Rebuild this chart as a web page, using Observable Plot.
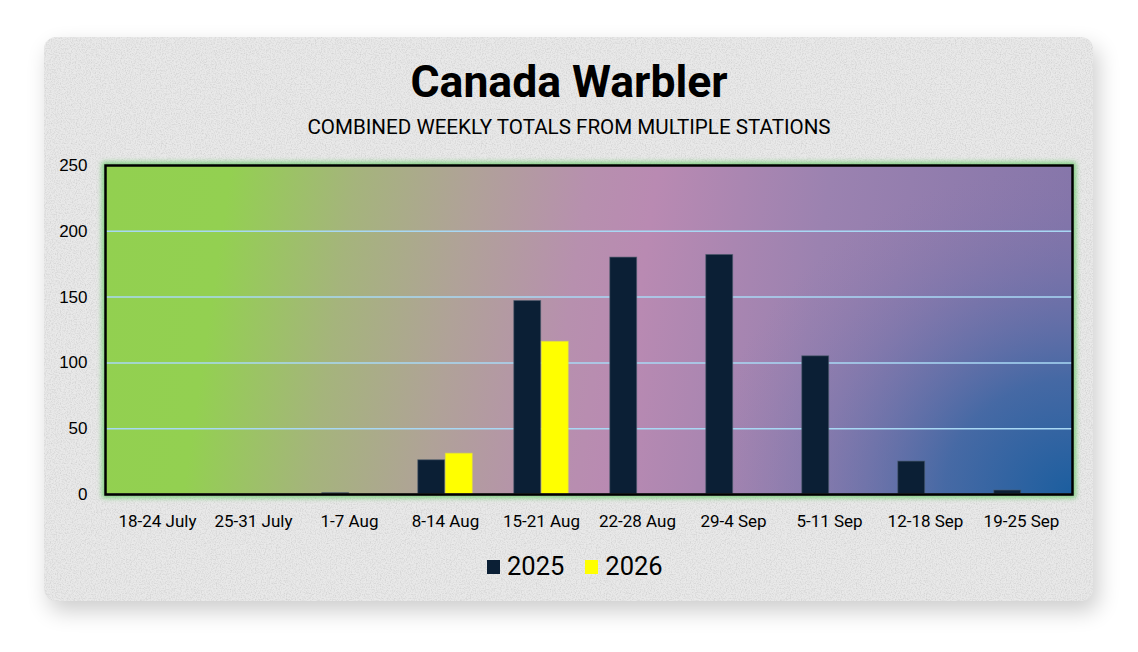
<!DOCTYPE html>
<html>
<head>
<meta charset="utf-8">
<script src="https://cdn.jsdelivr.net/npm/d3@7"></script>
<script src="https://cdn.jsdelivr.net/npm/@observablehq/plot@0.6"></script>
<style>
  html, body { margin: 0; padding: 0; background: #ffffff; }
  body { width: 1138px; height: 652px; overflow: hidden; position: relative; font-family: Roboto, "Liberation Sans", sans-serif; }
  #panel { position: absolute; left: 44px; top: 37px; width: 1049px; height: 564px; border-radius: 12px;
           background: #e9e9e9; box-shadow: 5px 10px 22px rgba(0,0,0,0.20); overflow: hidden; }
  #panel svg { position: absolute; left: 0; top: 0; }
  #title { position: absolute; left: 0; width: 1138px; top: 60px; text-align: center; font-weight: 700;
           font-size: 44.5px; line-height: 44.5px; color: #000; }
  #subtitle { position: absolute; left: 0; width: 1138px; top: 117px; text-align: center; font-weight: 400;
              font-size: 20.6px; line-height: 20.6px; color: #000; }
  #chart { position: absolute; left: 0; top: 150px; }
  #legend { position: absolute; left: 487px; top: 554px; display: flex; align-items: center; font-size: 25.5px; line-height: 25px; color: #000; }
  .sw { width: 13px; height: 14px; display: inline-block; margin-right: 7px; }
  .item { display: flex; align-items: center; margin-right: 21px; }
</style>
</head>
<body>
<svg width="0" height="0" style="position:absolute;left:0;top:0">
  <defs>
    <linearGradient id="bgH" x1="0" y1="0" x2="1" y2="0.05">
      <stop offset="0" stop-color="#92d050"/>
      <stop offset="0.13" stop-color="#93d051"/>
      <stop offset="0.26" stop-color="#a5b47c"/>
      <stop offset="0.38" stop-color="#b0a298"/>
      <stop offset="0.50" stop-color="#b790ae"/>
      <stop offset="0.57" stop-color="#b98ab2"/>
      <stop offset="0.75" stop-color="#9b82b0"/>
      <stop offset="1" stop-color="#8676aa"/>
    </linearGradient>
    <radialGradient id="bgR" cx="1" cy="1" r="1" gradientTransform="translate(1 1) scale(0.38 1) translate(-1 -1)">
      <stop offset="0" stop-color="#1b5e9f" stop-opacity="1"/>
      <stop offset="0.35" stop-color="#2f64a2" stop-opacity="0.75"/>
      <stop offset="0.7" stop-color="#5a6ca8" stop-opacity="0.3"/>
      <stop offset="1" stop-color="#8676aa" stop-opacity="0"/>
    </radialGradient>
    <filter id="noise" x="0" y="0" width="100%" height="100%">
      <feTurbulence type="fractalNoise" baseFrequency="0.8" numOctaves="2" seed="3"/>
      <feColorMatrix type="matrix" values="0 0 0 0 0.5  0 0 0 0 0.5  0 0 0 0 0.5  1.1 0 0 0 -0.45"/>
    </filter>
  </defs>
</svg>
<div id="panel">
  <svg width="1049" height="564"><rect width="1049" height="564" fill="#000" filter="url(#noise)"/></svg>
</div>
<div id="title">Canada Warbler</div>
<div id="subtitle">COMBINED WEEKLY TOTALS FROM MULTIPLE STATIONS</div>
<div id="chart"></div>
<div id="legend"></div>
<script>
// ---- data ----
const weeks = ["18-24 July", "25-31 July", "1-7 Aug", "8-14 Aug", "15-21 Aug", "22-28 Aug", "29-4 Sep", "5-11 Sep", "12-18 Sep", "19-25 Sep"];
const years = ["2025", "2026"];
const counts2025 = [0, 0, 1, 26, 147, 180, 182, 105, 25, 3];
const counts2026 = [0, 0, 0, 31, 116, 0, 0, 0, 0, 0];
const yTicks = [0, 50, 100, 150, 200, 250];
const gridTicks = [50, 100, 150, 200];
const yearColors = ["#0b1f35", "#ffff00"];

const rows2025 = weeks.map((w, i) => ({week: w, year: years[0], value: counts2025[i]}));
const rows2026 = weeks.map((w, i) => ({week: w, year: years[1], value: counts2026[i]}));

const W = 1138, H = 384, ML = 105, MR = 66, MT = 15, MB = 40;
const band = (W - ML - MR) / weeks.length;
const barW = band * 0.285;

const chart = Plot.plot({
  width: W,
  height: H,
  marginTop: MT,
  marginBottom: MB,
  marginLeft: ML,
  marginRight: MR,
  style: {background: "transparent", overflow: "visible", fontFamily: "Roboto, sans-serif"},
  x: {domain: weeks, padding: 0, axis: null, label: null},
  y: {domain: [0, 250], axis: null},
  color: {domain: years, range: yearColors},
  marks: [
    Plot.frame({stroke: "#7fcf7f", strokeWidth: 7, ariaLabel: "glow"}),
    Plot.frame({fill: "url(#bgH)"}),
    Plot.frame({fill: "url(#bgR)"}),
    Plot.ruleY(gridTicks, {stroke: "#a8d8f4", strokeWidth: 1.5}),
    Plot.barY(rows2025, {x: "week", y: "value", fill: "year", insetLeft: band / 2 - barW, insetRight: band / 2,
      stroke: "#4a5a6a", strokeOpacity: 0.6, strokeWidth: 1}),
    Plot.barY(rows2026, {x: "week", y: "value", fill: "year", insetLeft: band / 2, insetRight: band / 2 - barW,
      stroke: "#e0e040", strokeOpacity: 0.6, strokeWidth: 1}),
    Plot.ruleY([0], {stroke: "#7f7f7f", strokeWidth: 2}),
    Plot.frame({stroke: "#000", strokeWidth: 2.5}),
    Plot.axisY(yTicks, {tickSize: 0, tickPadding: 18, fontSize: 17, fontFamily: "Liberation Sans, Arial, sans-serif", fill: "#000", label: null}),
    Plot.axisX({tickSize: 0, tickPadding: 20, fontSize: 17, label: null, fill: "#000"})
  ]
});

d3.select(chart).selectAll('[aria-label="glow"]').style("filter", "blur(2.5px)");
document.getElementById("chart").appendChild(chart);

// legend
const legend = d3.select("#legend");
years.forEach((y, i) => {
  const item = legend.append("div").attr("class", "item");
  item.append("span").attr("class", "sw").style("background", yearColors[i]);
  item.append("span").text(y);
});
</script>
</body>
</html>
